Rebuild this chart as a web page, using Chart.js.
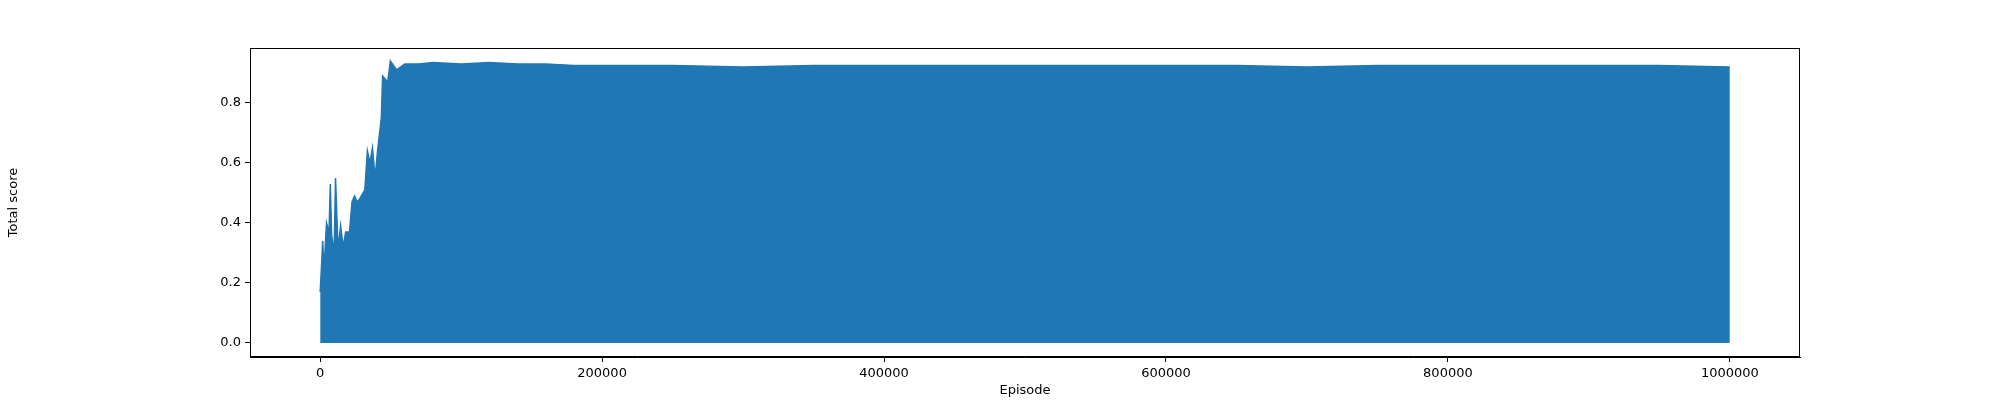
<!DOCTYPE html>
<html>
<head>
<meta charset="utf-8">
<script src="https://cdn.jsdelivr.net/npm/chart.js@4/dist/chart.umd.min.js"></script>
<style>
  html, body { margin: 0; padding: 0; background: #fff; }
  #wrap { width: 2000px; height: 400px; }
</style>
</head>
<body>
<div id="wrap"><canvas id="c" width="2000" height="400"></canvas></div>
<script>
// Upper envelope of total score per episode
const episodes = [
    0, 900, 1800, 2700, 4500, 6300, 7200, 8100, 9900, 10900, 12700, 14500,
    16300, 18100, 20800, 22600, 24400, 26200, 28000, 31700, 33500, 35300,
    37100, 39000, 40700, 43400, 44300, 46100, 47900, 49800, 54300, 60000,
    70000, 80000, 100000, 120000, 140000, 160000, 180000, 200000, 250000,
    300000, 350000, 400000, 450000, 500000, 550000, 600000, 650000, 700000,
    750000, 800000, 850000, 900000, 950000, 1000000
];
const scores = [
    0.17, 0.25, 0.34, 0.24, 0.40, 0.37, 0.53, 0.36, 0.30, 0.55, 0.31, 0.39,
    0.32, 0.37, 0.37, 0.47, 0.49, 0.47, 0.48, 0.51, 0.64, 0.60,
    0.65, 0.55, 0.64, 0.75, 0.89, 0.88, 0.87, 0.94, 0.91, 0.93,
    0.93, 0.935, 0.93, 0.935, 0.93, 0.93, 0.925, 0.925, 0.925,
    0.92, 0.925, 0.925, 0.925, 0.925, 0.925, 0.925, 0.925, 0.92,
    0.925, 0.925, 0.925, 0.925, 0.925, 0.92
];
const xTicks = [0, 200000, 400000, 600000, 800000, 1000000];
const yTicks = [0.0, 0.2, 0.4, 0.6, 0.8];

const points = episodes.map((e, i) => ({ x: e, y: scores[i] }));

const frame = {
    id: "frame",
    afterDraw(chart) {
        const a = chart.chartArea;
        const ctx = chart.ctx;
        ctx.save();
        ctx.strokeStyle = "#000";
        ctx.lineWidth = 1;
        ctx.strokeRect(a.left + 0.5, a.top + 0.5, a.width - 1, a.height - 1);
        ctx.restore();
    }
};

const font = { family: "DejaVu Sans", size: 13 };

new Chart(document.getElementById("c"), {
    type: "line",
    data: {
        datasets: [{
            data: points,
            borderColor: "#1f77b4",
            backgroundColor: "#1f77b4",
            borderWidth: 1.5,
            pointRadius: 0,
            fill: "origin",
            tension: 0
        }]
    },
    options: {
        responsive: false,
        animation: false,
        layout: { padding: { top: 48, right: 200, left: 0, bottom: 0 } },
        plugins: { legend: { display: false }, tooltip: { enabled: false } },
        scales: {
            x: {
                type: "linear",
                min: -49774,
                max: 1049774,
                afterBuildTicks: s => { s.ticks = xTicks.map(v => ({ value: v })); },
                afterFit: s => { s.height = 43; },
                ticks: { color: "#000", font, maxRotation: 0, padding: 4, callback: v => String(v) },
                grid: { drawOnChartArea: false, tickLength: 5, color: "#000" },
                border: { color: "#000" },
                title: { display: true, text: "Episode", color: "#000", font, padding: 2 }
            },
            y: {
                min: -0.0468,
                max: 0.983,
                afterBuildTicks: s => { s.ticks = yTicks.map(v => ({ value: v })); },
                afterFit: s => { s.width = 250; },
                ticks: { color: "#000", font, padding: 4, callback: v => v.toFixed(1) },
                grid: { drawOnChartArea: false, tickLength: 5, color: "#000" },
                border: { color: "#000" },
                title: { display: true, text: "Total score", color: "#000", font, padding: 6 }
            }
        }
    },
    plugins: [frame]
});
</script>
</body>
</html>
